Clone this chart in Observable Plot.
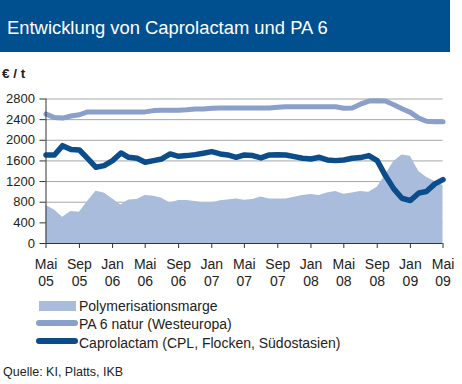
<!DOCTYPE html>
<html>
<head>
<meta charset="utf-8">
<script src="https://cdn.jsdelivr.net/npm/d3@7"></script>
<script src="https://cdn.jsdelivr.net/npm/@observablehq/plot@0.6"></script>
<style>
  html, body { margin: 0; padding: 0; background: #fff; }
  body { width: 462px; height: 384px; position: relative; overflow: hidden; font-family: "Liberation Sans", Arial, sans-serif; color: #222; }
  .abs { position: absolute; white-space: nowrap; }
  #title { left: 0; top: 0; width: 450px; height: 52px; background: #00508f; color: #fff; font-size: 18.4px; line-height: 55px; padding-left: 7px; box-sizing: border-box; }
  .leg { font-size: 14px; height: 18px; line-height: 18px; left: 79px; }
</style>
</head>
<body>
<div id="title" class="abs">Entwicklung von Caprolactam und PA 6</div>
<div class="abs" style="left:2px;top:65px;font-size:13.5px;font-weight:bold;line-height:18px;">€ / t</div>
<div id="chart"></div>
<div class="abs" style="left:39px;top:301px;width:37px;height:10px;background:#a9bcdb;"></div>
<div class="abs leg" style="top:297px;">Polymerisationsmarge</div>
<div class="abs" style="left:36px;top:319.5px;width:42px;height:6px;border-radius:3px;background:#8b9fcb;"></div>
<div class="abs leg" style="top:315px;">PA 6 natur (Westeuropa)</div>
<div class="abs" style="left:36px;top:337.5px;width:42px;height:6px;border-radius:3px;background:#0b4d8a;"></div>
<div class="abs leg" style="top:334px;">Caprolactam (CPL, Flocken, Südostasien)</div>
<div class="abs" style="left:3px;top:364px;font-size:12.5px;line-height:16px;">Quelle: KI, Platts, IKB</div>
<script>
// Monthly data, May 2005 .. May 2009 (49 months)
const startMonth = new Date(Date.UTC(2005, 4, 1));
const endMonth = new Date(Date.UTC(2009, 4, 1));

const margeValues = [735, 651, 510, 619, 606, 813, 1013, 980, 864, 748,
  845, 851, 929, 916, 877, 787, 832, 832, 813, 787,
  787, 826, 845, 864, 838, 851, 903, 864, 864, 864,
  897, 929, 948, 929, 980, 1006, 955, 980, 1006, 993,
  1090, 1329, 1587, 1716, 1690, 1393, 1283, 1200, 1122];

const pa6Values = [2510, 2440, 2430, 2470, 2495, 2550, 2550, 2550, 2550, 2550,
  2550, 2550, 2550, 2575, 2580, 2580, 2580, 2590, 2605, 2605,
  2620, 2625, 2625, 2625, 2625, 2625, 2625, 2625, 2640, 2650,
  2650, 2650, 2650, 2650, 2650, 2650, 2620, 2625, 2700, 2760,
  2765, 2760, 2690, 2610, 2540, 2430, 2370, 2360, 2360];

const cplValues = [1716, 1716, 1896, 1820, 1812, 1650, 1477, 1510, 1606, 1754,
  1670, 1651, 1574, 1606, 1638, 1735, 1690, 1703, 1722, 1750,
  1780, 1735, 1716, 1670, 1716, 1703, 1658, 1716, 1722, 1716,
  1683, 1651, 1638, 1670, 1619, 1606, 1619, 1651, 1665, 1703,
  1606, 1316, 1058, 877, 832, 980, 1006, 1155, 1238];

const yTicks = [0, 400, 800, 1200, 1600, 2000, 2400, 2800];
const xTickLabels = ["Mai\n05", "Sep\n05", "Jan\n06", "Mai\n06", "Sep\n06", "Jan\n07", "Mai\n07",
  "Sep\n07", "Jan\n08", "Mai\n08", "Sep\n08", "Jan\n09", "Mai\n09"];

const months = d3.utcMonth.range(startMonth, d3.utcMonth.offset(endMonth, 1));
const xTicks = d3.utcMonth.every(4).range(startMonth, d3.utcMonth.offset(endMonth, 1));
const labelOf = new Map(xTicks.map((d, i) => [+d, xTickLabels[i]]));

const marge = months.map((d, i) => ({date: d, value: margeValues[i]}));
const pa6 = months.map((d, i) => ({date: d, value: pa6Values[i]}));
const cpl = months.map((d, i) => ({date: d, value: cplValues[i]}));

const chart = Plot.plot({
  width: 462,
  height: 245,
  marginTop: 46.5,
  marginBottom: 54,
  marginLeft: 45.5,
  marginRight: 19.5,
  style: {fontFamily: "'Liberation Sans', Arial, sans-serif", color: "#222", background: "transparent"},
  x: {type: "utc", domain: [startMonth, endMonth]},
  y: {domain: [0, 2800]},
  marks: [
    Plot.gridY(yTicks.filter(d => d > 0), {stroke: "#a6a6a6", strokeOpacity: 1, strokeWidth: 1}),
    Plot.areaY(marge, {x: "date", y: "value", fill: "#a9bcdb"}),
    Plot.lineY(pa6, {x: "date", y: "value", stroke: "#8b9fcb", strokeWidth: 5, strokeLinejoin: "round"}),
    Plot.lineY(cpl, {x: "date", y: "value", stroke: "#0b4d8a", strokeWidth: 5.5, strokeLinejoin: "round"}),
    Plot.ruleY([0], {stroke: "#333", strokeWidth: 1}),
    Plot.ruleX([startMonth], {y1: 0, y2: 2800, stroke: "#333", strokeWidth: 1}),
    Plot.axisY(yTicks, {tickSize: 6, tickPadding: 5, fontSize: 13, stroke: "#333", color: "#222",
      tickFormat: d => String(d), label: null}),
    Plot.axisX(xTicks, {tickSize: 5, tickPadding: 8, fontSize: 14, lineHeight: 1.25, stroke: "#333", color: "#222",
      tickFormat: d => labelOf.get(+d), label: null})
  ]
});
chart.style.position = "absolute";
chart.style.left = "0px";
chart.style.top = "52px";
document.getElementById("chart").appendChild(chart);
</script>
</body>
</html>
